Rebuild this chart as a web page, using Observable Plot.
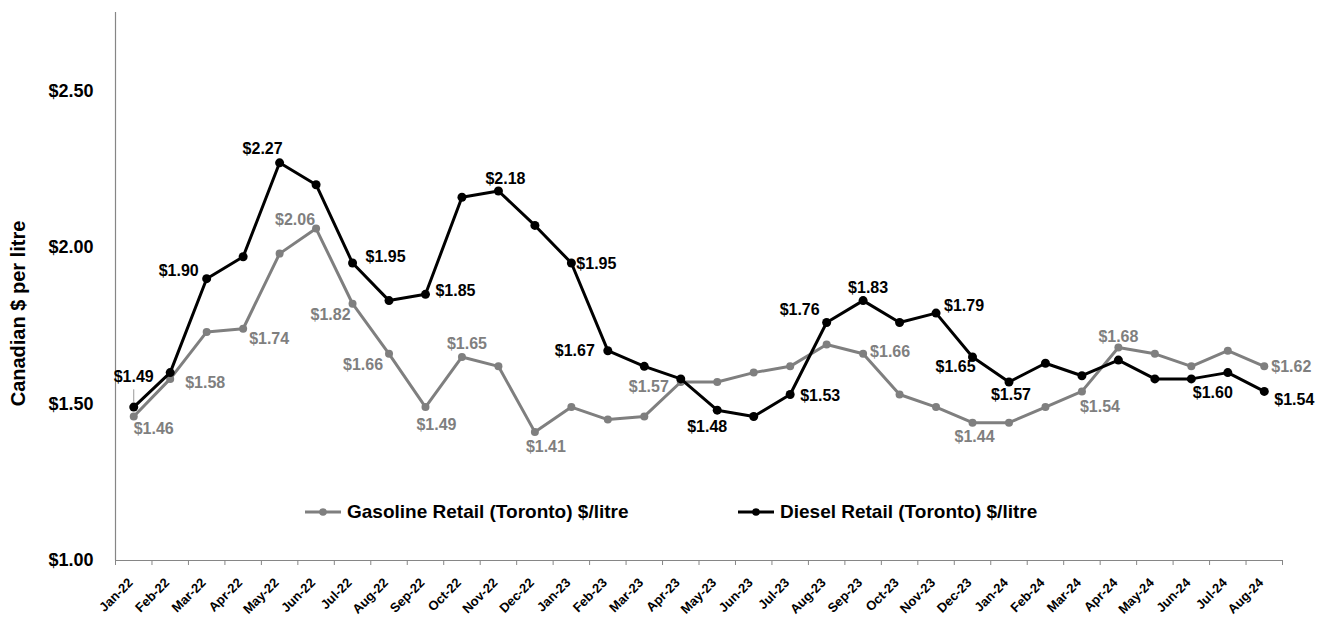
<!DOCTYPE html>
<html><head><meta charset="utf-8">
<script src="https://cdn.jsdelivr.net/npm/d3@7"></script>
<script src="https://cdn.jsdelivr.net/npm/@observablehq/plot@0.6"></script>
<style>
body{margin:0;background:#fff;font-family:"Liberation Sans",Arial,sans-serif;}
#wrap{position:relative;width:1329px;height:618px;}
.legend{position:absolute;top:501px;height:22px;font-size:19px;line-height:22px;font-weight:bold;display:flex;align-items:center;color:#000;white-space:nowrap;}
.legend span{margin-left:6px;}
</style></head><body><div id="wrap"></div>
<script>
const months = ["Jan-22","Feb-22","Mar-22","Apr-22","May-22","Jun-22","Jul-22","Aug-22","Sep-22","Oct-22","Nov-22","Dec-22",
  "Jan-23","Feb-23","Mar-23","Apr-23","May-23","Jun-23","Jul-23","Aug-23","Sep-23","Oct-23","Nov-23","Dec-23",
  "Jan-24","Feb-24","Mar-24","Apr-24","May-24","Jun-24","Jul-24","Aug-24"];
const gasoline = [1.46,1.58,1.73,1.74,1.98,2.06,1.82,1.66,1.49,1.65,1.62,1.41,
  1.49,1.45,1.46,1.57,1.57,1.60,1.62,1.69,1.66,1.53,1.49,1.44,
  1.44,1.49,1.54,1.68,1.66,1.62,1.67,1.62];
const diesel = [1.49,1.60,1.90,1.97,2.27,2.20,1.95,1.83,1.85,2.16,2.18,2.07,
  1.95,1.67,1.62,1.58,1.48,1.46,1.53,1.76,1.83,1.76,1.79,1.65,
  1.57,1.63,1.59,1.64,1.58,1.58,1.60,1.54];
const yTicks = [1.00,1.50,2.00,2.50];
const seriesNames = ["Gasoline Retail (Toronto) $/litre","Diesel Retail (Toronto) $/litre"];
const yTitle = "Canadian $ per litre";
const gasLabelMonths = ["Jan-22","Feb-22","Apr-22","Jun-22","Jul-22","Aug-22","Sep-22","Oct-22","Dec-22","Apr-23","Sep-23","Dec-23","Mar-24","Apr-24","Aug-24"];
const dieselLabelMonths = ["Jan-22","Mar-22","May-22","Jul-22","Sep-22","Nov-22","Jan-23","Feb-23","May-23","Jul-23","Aug-23","Sep-23","Nov-23","Dec-23","Jan-24","Jul-24","Aug-24"];

// label placement (pixel offsets from the point)
const gasPlace = {"Jan-22":[20,12],"Feb-22":[35,4],"Apr-22":[26,10],"Jun-22":[-21,-9],"Jul-22":[-22,11],"Aug-22":[-26,11],
  "Sep-22":[11,18],"Oct-22":[5,-13],"Dec-22":[11,15],"Apr-23":[-32,5],"Sep-23":[27,-2],"Dec-23":[2,14],"Mar-24":[18,15],
  "Apr-24":[0,-11],"Aug-24":[27,1]};
const dieselPlace = {"Jan-22":[0,-30],"Mar-22":[-28,-8],"May-22":[-17,-14],"Jul-22":[33,-6],"Sep-22":[30,-3],"Nov-22":[7,-12],
  "Jan-23":[25,1],"Feb-23":[-33,0],"May-23":[-10,17],"Jul-23":[30,1],"Aug-23":[-27,-13],"Sep-23":[5,-13],"Nov-23":[28,-7],
  "Dec-23":[-17,10],"Jan-24":[2,13],"Jul-24":[-15,20],"Aug-24":[30,8]};

const GRAY = "#7f7f7f", AXIS = "#868686";
const rows = months.map((m,i)=>({i, m, gas: gasoline[i], diesel: diesel[i]}));
const fmt = v => "$" + v.toFixed(2);

function labelMarks(list, place, key, fill){
  return list.map(m => {
    const r = rows[months.indexOf(m)];
    const [dx,dy] = place[m];
    return Plot.text([r], {x:"i", y:key, text: d=>fmt(d[key]), dx, dy, fill, fontSize:16, fontWeight:"bold"});
  });
}

const plot = Plot.plot({
  width:1329, height:618,
  marginLeft:115, marginRight:47, marginTop:12, marginBottom:58,
  style:{fontFamily:"'Liberation Sans', Arial, sans-serif", fontWeight:"bold", background:"#fff", color:"#000"},
  x:{type:"linear", domain:[-0.5, months.length-0.5]},
  y:{domain:[1,2.75]},
  marks:[
    Plot.ruleX([-0.5], {stroke:AXIS, strokeWidth:1.2}),
    Plot.ruleY([1], {stroke:AXIS, strokeWidth:1.2}),
    Plot.axisY({ticks:yTicks, tickFormat:fmt, tickSize:0, tickPadding:22, fontSize:18, fontWeight:"bold", label:null}),
    Plot.axisX({ticks:d3.range(-0.5, months.length, 1), tickFormat:()=>"", tickSize:5, stroke:AXIS, label:null}),
    Plot.text(rows, {x:"i", text:"m", frameAnchor:"bottom", textAnchor:"end", lineAnchor:"middle", rotate:-45, dx:-3, dy:20, fontSize:13, fontWeight:"bold", fill:"#000"}),
    Plot.text([yTitle], {text:d=>d, frameAnchor:"left", textAnchor:"middle", rotate:-90, dx:-97, dy:27, fontSize:20, fontWeight:"bold", fill:"#000"}),
    Plot.ruleX([rows[0]], {x:"i", y1:d=>d.diesel+0.015, y2:d=>d.diesel+0.055, stroke:"#999", strokeWidth:1}),
    Plot.lineY(rows, {x:"i", y:"gas", stroke:GRAY, strokeWidth:3}),
    Plot.dot(rows, {x:"i", y:"gas", r:4, fill:GRAY}),
    Plot.lineY(rows, {x:"i", y:"diesel", stroke:"#000", strokeWidth:3}),
    Plot.dot(rows, {x:"i", y:"diesel", r:4.5, fill:"#000"}),
    ...labelMarks(gasLabelMonths, gasPlace, "gas", GRAY),
    ...labelMarks(dieselLabelMonths, dieselPlace, "diesel", "#000")
  ]
});
const wrap = document.getElementById("wrap");
wrap.appendChild(plot);

const legendDefs = [{name:seriesNames[0], color:GRAY, left:305}, {name:seriesNames[1], color:"#000", left:738}];
for (const l of legendDefs){
  const div = document.createElement("div");
  div.className = "legend";
  div.style.left = l.left + "px";
  div.innerHTML = `<svg width="36" height="12"><line x1="0" y1="6" x2="36" y2="6" stroke="${l.color}" stroke-width="3"/><circle cx="18" cy="6" r="3.8" fill="${l.color}"/></svg><span>${l.name}</span>`;
  wrap.appendChild(div);
}
</script>
</body></html>
